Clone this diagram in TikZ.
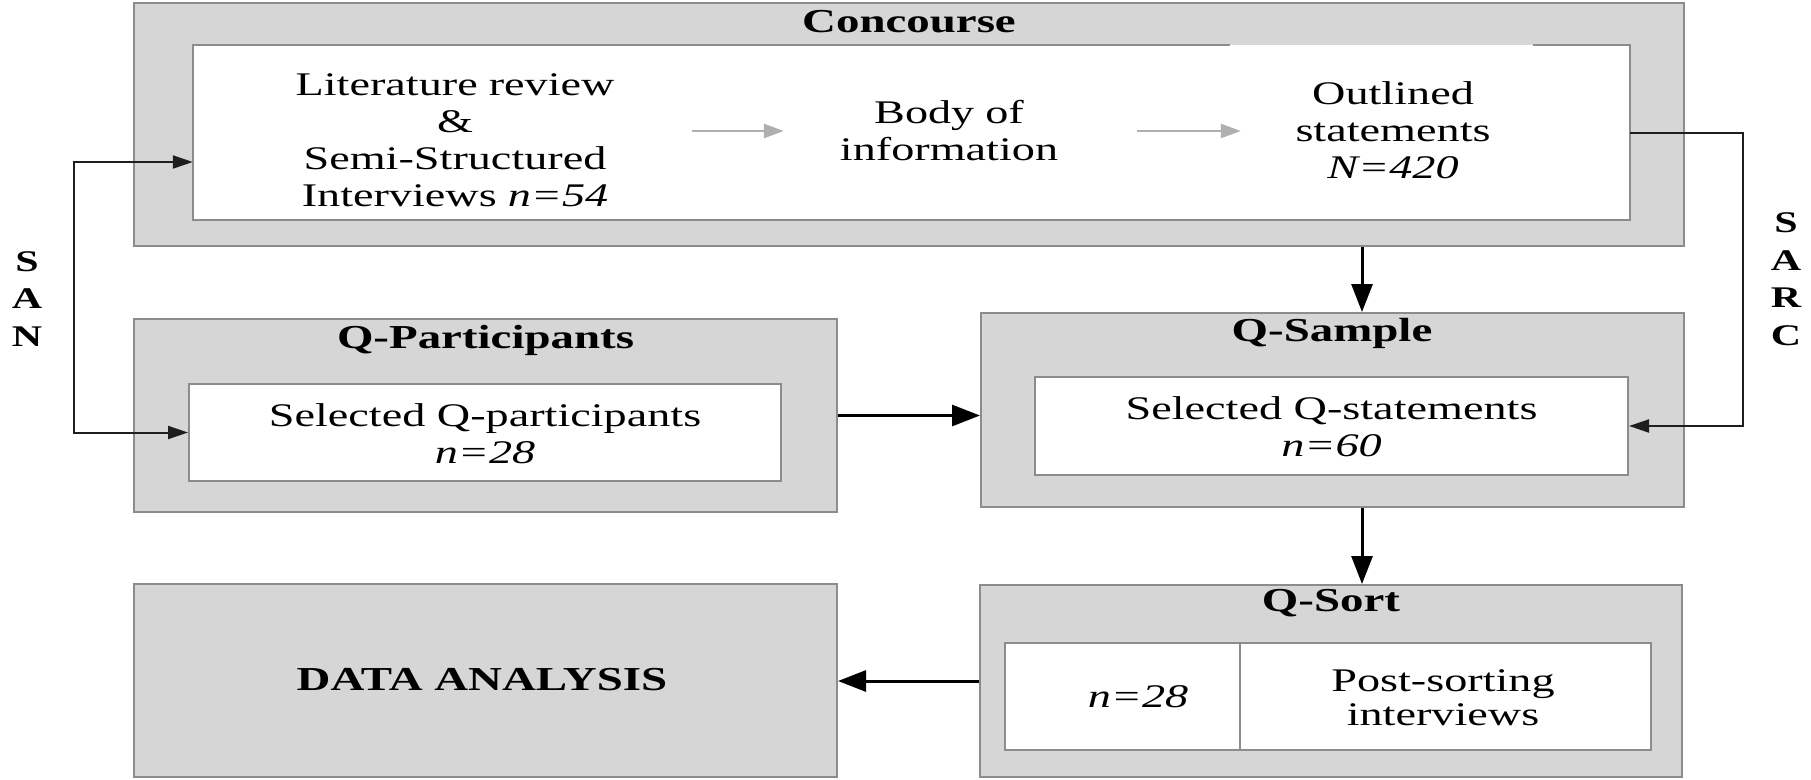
\documentclass[tikz,border=0pt]{standalone}
\usepackage{fontspec}
\setmainfont[FakeStretch=1.4]{Liberation Serif}
\usetikzlibrary{arrows.meta}

\definecolor{boxfill}{RGB}{214,214,214}
\definecolor{boxline}{RGB}{140,140,140}
\definecolor{linkcol}{RGB}{30,30,30}
\definecolor{softcol}{RGB}{175,175,175}

\begin{document}
\begin{tikzpicture}[x=1pt,y=-1pt,
  outerbox/.style={draw=boxline, fill=boxfill, line width=2pt, inner sep=0pt},
  innerbox/.style={draw=boxline, fill=white, line width=2pt, inner sep=0pt},
  innerline/.style={draw=boxline, line width=2pt},
  title/.style={font=\fontsize{33.5}{37}\selectfont\bfseries, inner sep=0pt},
  body/.style={font=\fontsize{33}{37}\selectfont, align=center, inner sep=0pt},
  letters/.style={font=\fontsize{30}{37.5}\selectfont\bfseries, align=center, inner sep=0pt},
  flow/.style={line width=3pt, -{Triangle[length=28pt,width=21pt]}},
  linkline/.style={line width=2pt, draw=linkcol},
  tip/.style={-{Triangle[length=20pt,width=13pt]}},
  tips/.style={{Triangle[length=20pt,width=13pt]}-{Triangle[length=20pt,width=13pt]}},
  soft/.style={line width=2.5pt, draw=softcol, -{Triangle[length=20pt,width=14pt]}}
]
\useasboundingbox (0,0) rectangle (1811,779);

% Concourse
\node[outerbox, minimum width=1550pt, minimum height=243pt] (conc) at (909,124.5) {};
\node[title] (conct) at (909,22) {Concourse};
\node[fill=white, inner sep=0pt, minimum width=1437pt, minimum height=175pt] (cin) at (911.5,132.5) {};
\draw[innerline] ([xshift=1037pt]cin.north west) -- (cin.north west) -- (cin.south west)
  -- (cin.south east) -- (cin.north east) -- ([xshift=-97pt]cin.north east);
\node[body, text width=360pt] (lit) at (455,140) {Literature review\\\&\\Semi-Structured\\Interviews \textit{n=54}};
\node[body, text width=240pt] (bodyinfo) at (949,131) {Body of\\information};
\node[body, text width=240pt] (outl) at (1393,130) {Outlined\\statements\\\textit{N=420}};
\draw[soft, shorten <=57pt, shorten >=45pt] (lit.east |- bodyinfo.west) -- (bodyinfo.west);
\draw[soft, shorten <=68pt, shorten >=32pt] (bodyinfo.east) -- (outl.west |- bodyinfo.east);

% Q-Participants
\node[outerbox, minimum width=703pt, minimum height=193pt] (qp) at (485.5,415.5) {};
\node[title] (qpt) at (485.5,340) {Q-Participants};
\node[innerbox, minimum width=592pt, minimum height=97pt] (qpin) at (485,432.5) {};
\node[body] (qptxt) at (485,433.5) {Selected Q-participants\\\textit{n=28}};

% Q-Sample
\node[outerbox, minimum width=703pt, minimum height=194pt] (qs) at (1332.5,410) {};
\node[title] (qst) at (1332,333) {Q-Sample};
\node[innerbox, minimum width=593pt, minimum height=98pt] (qsin) at (1331.5,426) {};
\node[body] (qstxt) at (1331.5,427) {Selected Q-statements\\\textit{n=60}};

% Data analysis
\node[outerbox, minimum width=703pt, minimum height=193pt] (da) at (485.5,680.5) {};
\node[title] (datxt) at (482,680) {DATA ANALYSIS};

% Q-Sort
\node[outerbox, minimum width=702pt, minimum height=192pt] (qsort) at (1331,681) {};
\node[title] (qsortt) at (1331,603) {Q-Sort};
\node[innerbox, minimum width=235pt, minimum height=107pt] (qsl) at (1122.5,696.5) {};
\node[innerbox, minimum width=411pt, minimum height=107pt] (qsr) at (1445.5,696.5) {};
\node[body] (qsltxt) at (1138,697) {\textit{n=28}};
\node[body, font=\fontsize{33}{34}\selectfont] (qsrtxt) at (1443,698) {Post-sorting\\interviews};

% Main flow
\coordinate (qstop) at ([xshift=29.5pt]qs.north);
\coordinate (qsbot) at ([xshift=29.5pt]qs.south);
\draw[flow] (conc.south -| qstop) -- (qstop);
\draw[flow] (qsbot) -- (qsbot |- qsort.north);
\draw[flow] (qp.east) -- (qp.east -| qs.west);
\draw[flow] (qsort.west) -- (qsort.west -| da.east);

% SAN and SARC loops
\coordinate (sanbend) at (74,300);
\coordinate (sarcbend) at (1743,280);
\draw[linkline, tips] ([yshift=-29.5pt]cin.west) -| (sanbend) |- (qpin.west);
\draw[linkline, tip] (cin.east) -| (sarcbend) |- (qsin.east);
\node[letters] (san) at (27,299) {S\\A\\N};
\node[letters] (sarc) at (1786,279) {S\\A\\R\\C};
\end{tikzpicture}
\end{document}
